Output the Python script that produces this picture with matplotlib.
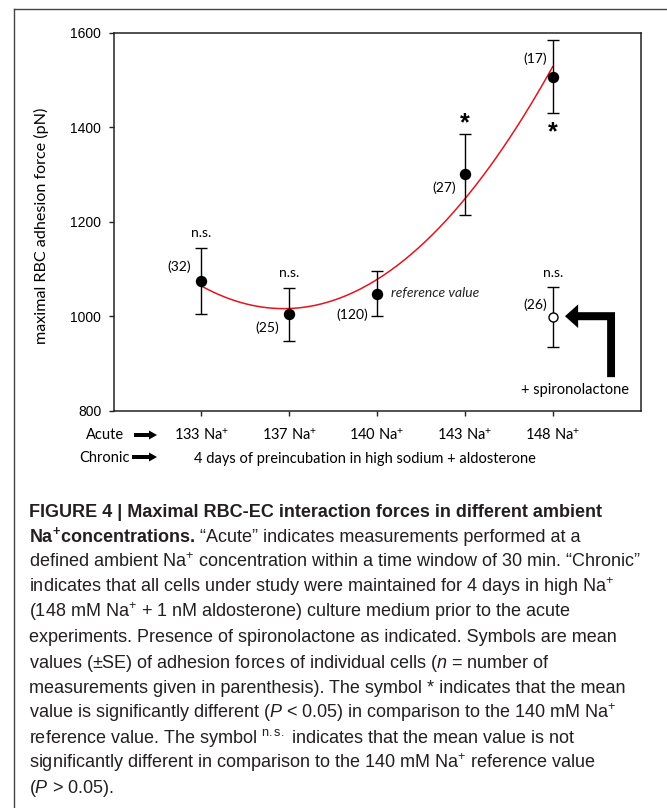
import numpy as np
import matplotlib.pyplot as plt
from matplotlib.patches import Polygon
from matplotlib.lines import Line2D

plt.rcParams['mathtext.fontset'] = 'custom'
plt.rcParams['mathtext.rm'] = 'Liberation Sans'
plt.rcParams['mathtext.it'] = 'Liberation Sans:italic'
plt.rcParams['mathtext.bf'] = 'Liberation Sans:bold'

W, H = 667, 808

# acute Na+ concentrations (mM) and adhesion forces (pN)
na_conc = ['133', '137', '140', '143', '148']
n_meas = [32, 25, 120, 27, 17]
force = [1075, 1004, 1048, 1300, 1507]
force_se = [70, 56, 48, 86, 78]
signif = ['n.s.', 'n.s.', '', '*', '*']

# chronic high sodium + aldosterone, with spironolactone
spiro_force = 998
spiro_se = 63
spiro_n = 26
spiro_signif = 'n.s.'

chart_font = 'Lato'
cap_font = 'Liberation Sans'


def fx(px):
    return px / W


def fy(py):
    return 1 - py / H


fig = plt.figure(figsize=(W / 100, H / 100), dpi=100)

# open frame around the figure panel
fig.add_artist(Line2D([fx(14), fx(14)], [fy(9), 0], color='#444444', lw=1.0))
fig.add_artist(Line2D([fx(14), 1], [fy(9), fy(9)], color='#444444', lw=1.0))

ax = fig.add_axes([fx(113.5), fy(410.7), (640.5 - 113.5) / W, (410.7 - 32.7) / H])

x = np.arange(1, len(force) + 1)
coef = np.polyfit(x, force, 2)
xs = np.linspace(x[0], x[-1], 200)
ax.plot(xs, np.polyval(coef, xs), color='#e3141c', lw=1.1, zorder=2)

ax.errorbar(x, force, yerr=force_se, fmt='o', color='black', ms=7.2,
            capsize=4.6, capthick=1.0, elinewidth=1.0, zorder=3)
ax.errorbar([x[-1]], [spiro_force], yerr=[spiro_se], fmt='o', color='black',
            mfc='white', mec='black', mew=1.0, ms=6.5,
            capsize=4.6, capthick=1.0, elinewidth=1.0, zorder=3)

# n labels next to each point
n_off = [(-0.25, 29), (-0.25, -29), (-0.28, -45), (-0.24, -29), (-0.2, 37)]
for xi, yi, n, (dx, dy) in zip(x, force, n_meas, n_off):
    ax.text(xi + dx, yi + dy, f'({n})', ha='center', va='center',
            fontsize=10, family=chart_font)
ax.text(x[-1] - 0.2, spiro_force + 27, f'({spiro_n})', ha='center', va='center',
        fontsize=10, family=chart_font)

# significance marks
for i, (xi, yi, se, s) in enumerate(zip(x, force, force_se, signif)):
    if s == 'n.s.':
        ax.text(xi, yi + se + 31, s, ha='center', va='center',
                fontsize=10, family=chart_font)
    elif s == '*':
        ty = yi + se + 23 if i == 3 else yi - se - 40
        ax.text(xi, ty, s, ha='center', va='center', fontsize=18,
                fontweight='bold', family=cap_font)
ax.text(x[-1], spiro_force + spiro_se + 31, spiro_signif, ha='center',
        va='center', fontsize=10, family=chart_font)

ax.text(x[2] + 0.16, force[2] + 2, 'reference value', ha='left', va='center',
        fontsize=10, style='italic', family=chart_font, color='#222222')

# elbow arrow pointing at the spironolactone point
arrow = [(5.14, 1000), (5.29, 1025), (5.29, 1008.5), (5.71, 1008.5),
         (5.71, 871), (5.62, 871), (5.62, 991.5), (5.29, 991.5), (5.29, 975)]
ax.add_patch(Polygon(arrow, closed=True, color='black', lw=0, zorder=3))
ax.text(5.25, 844, '+ spironolactone', ha='center', va='center',
        fontsize=10.5, family=chart_font)

ax.set_xlim(0, 6)
ax.set_ylim(800, 1600)
ax.set_xticks(x)
ax.set_xticklabels([])
ax.set_yticks(np.arange(800, 1601, 200))
ax.tick_params(axis='both', direction='out', length=3.3, width=1.0, color='#222222')
ax.tick_params(axis='y', pad=5.5, labelsize=10)
for lab in ax.get_yticklabels():
    lab.set_family(cap_font)
for sp in ax.spines.values():
    sp.set_linewidth(1.1)
    sp.set_color('#222222')

ax.set_ylabel('maximal RBC adhesion force (pN)', fontsize=11.6, family=chart_font)
ax.yaxis.set_label_coords((49 - 113.5) / 527, 0.49)

# condition rows under the axis
for xi, c in zip(x, na_conc):
    ax.text(xi, -0.064, f'{c} Na$^{{+}}$', transform=ax.get_xaxis_transform(),
            ha='center', va='center', fontsize=10.5, family=chart_font)
fig.text(fx(105), fy(435), 'Acute', ha='center', va='center',
         fontsize=10.5, family=chart_font)
fig.text(fx(105), fy(458), 'Chronic', ha='center', va='center',
         fontsize=10.5, family=chart_font)
fig.text(fx(365), fy(459), '4 days of preincubation in high sodium + aldosterone',
         ha='center', va='center', fontsize=10.5, family=chart_font)


def small_arrow(x0, x1, yc):
    xb = x1 - 8
    pts = [(x0, yc - 2), (xb, yc - 2), (xb, yc - 4.5), (x1, yc), (xb, yc + 4.5),
           (xb, yc + 2), (x0, yc + 2)]
    fig.add_artist(Polygon([(fx(a), fy(b)) for a, b in pts], closed=True,
                           transform=fig.transFigure, color='black', lw=0))


small_arrow(134, 157, 435)
small_arrow(132, 157, 457)

# caption
caption = [
    [('FIGURE 4 | Maximal RBC-EC interaction forces in different ambient', 'bold')],
    [('Na$^{\\mathbf{+}}$concentrations.', 'bold'),
     (' \u201cAcute\u201d indicates measurements performed at a', 'normal')],
    [('defined ambient Na$^{+}$ concentration within a time window of 30 min. \u201cChronic\u201d', 'normal')],
    [('indicates that all cells under study were maintained for 4 days in high Na$^{+}$', 'normal')],
    [('(148 mM Na$^{+}$ + 1 nM aldosterone) culture medium prior to the acute', 'normal')],
    [('experiments. Presence of spironolactone as indicated. Symbols are mean', 'normal')],
    [('values (\u00b1SE) of adhesion forces of individual cells ($n$ = number of', 'normal')],
    [('measurements given in parenthesis). The symbol * indicates that the mean', 'normal')],
    [('value is significantly different ($P$ < 0.05) in comparison to the 140 mM Na$^{+}$', 'normal')],
    [('reference value. The symbol $^{\\mathrm{n.s.}}$ indicates that the mean value is not', 'normal')],
    [('significantly different in comparison to the 140 mM Na$^{+}$ reference value', 'normal')],
    [('($P$ > 0.05).', 'normal')],
]

renderer = fig.canvas.get_renderer()
for i, segs in enumerate(caption):
    xpos = 29
    ypos = 517 + 25.1 * i
    for txt, weight in segs:
        t = fig.text(fx(xpos), fy(ypos), txt, ha='left', va='baseline',
                     fontsize=13, fontweight=weight, family=cap_font,
                     color='#231f20')
        xpos += t.get_window_extent(renderer).width

fig.savefig('out.png', dpi=100)
